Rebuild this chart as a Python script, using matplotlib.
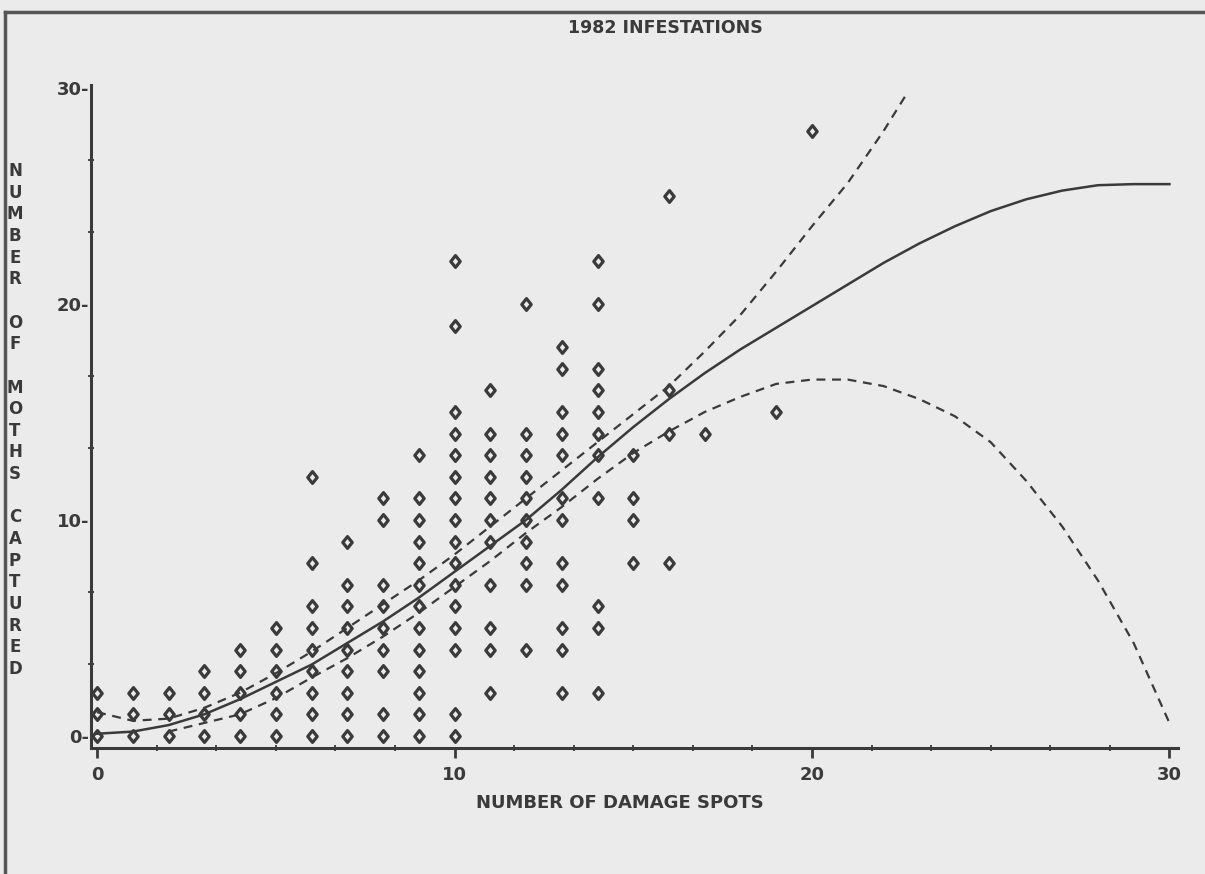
import matplotlib
matplotlib.use("Agg")
import matplotlib.pyplot as plt
from matplotlib.path import Path
from matplotlib.ticker import FixedLocator, MultipleLocator

# observed counts: moths captured at each number of damage spots
damage_spots = [0, 1, 2, 3, 4, 5, 6, 7, 8, 9, 10, 11, 12, 13, 14, 15, 16, 17, 19, 20]
moths_by_spots = [
    [0, 1, 2],
    [0, 1, 2],
    [0, 1, 2],
    [0, 1, 2, 3],
    [0, 1, 2, 3, 4],
    [0, 1, 2, 3, 4, 5],
    [0, 1, 2, 3, 4, 5, 6, 8, 12],
    [0, 1, 2, 3, 4, 5, 6, 7, 9],
    [0, 1, 3, 4, 5, 6, 7, 10, 11],
    [0, 1, 2, 3, 4, 5, 6, 7, 8, 9, 10, 11, 13],
    [0, 1, 4, 5, 6, 7, 8, 9, 10, 11, 12, 13, 14, 15, 19, 22],
    [2, 4, 5, 7, 9, 10, 11, 12, 13, 14, 16],
    [4, 7, 8, 9, 10, 11, 12, 13, 14, 20],
    [2, 4, 5, 7, 8, 10, 11, 13, 14, 15, 17, 18],
    [2, 5, 6, 11, 13, 14, 15, 16, 17, 20, 22],
    [8, 10, 11, 13],
    [8, 14, 16, 25],
    [14],
    [15],
    [28],
]

# fitted curve and confidence band
fit_x = list(range(31))
fit_y = [0.1, 0.2, 0.5, 1.0, 1.7, 2.5, 3.3, 4.3, 5.3, 6.4, 7.6, 8.8, 10.0, 11.4,
         12.9, 14.3, 15.6, 16.8, 17.9, 18.9, 19.9, 20.9, 21.9, 22.8, 23.6, 24.3,
         24.85, 25.25, 25.5, 25.55, 25.55]

upper_x = [0, 1, 2, 3, 4, 5, 6, 7, 8, 9, 10, 11, 12, 13, 14, 15, 16, 17, 18, 19,
           20, 21, 22, 22.6]
upper_y = [1.1, 0.7, 0.8, 1.3, 2.0, 2.9, 3.9, 5.0, 6.1, 7.2, 8.4, 9.7, 11.0, 12.3,
           13.6, 14.9, 16.2, 17.8, 19.5, 21.5, 23.6, 25.6, 28.0, 29.6]

lower_x = [2, 3, 4, 5, 6, 7, 8, 9, 10, 11, 12, 13, 14, 15, 16, 17, 18, 19, 20,
           21, 22, 23, 24, 25, 26, 27, 28, 29, 30]
lower_y = [0.2, 0.6, 1.0, 1.75, 2.7, 3.6, 4.6, 5.7, 6.9, 8.1, 9.4, 10.6, 11.9,
           13.1, 14.1, 15.0, 15.7, 16.3, 16.5, 16.5, 16.2, 15.6, 14.8, 13.6,
           11.8, 9.7, 7.2, 4.3, 0.6]

title = "1982 INFESTATIONS"
x_label = "NUMBER OF DAMAGE SPOTS"
y_label = "NUMBER OF MOTHS CAPTURED"

ink = "#3a3a3a"
paper = "#ebebeb"
font = ["DejaVu Sans"]

# rounded plotter diamond, a little taller than wide
diamond = Path([(0, 1), (0.8, 0), (0, -1), (-0.8, 0), (0, 1)],
               [Path.MOVETO, Path.LINETO, Path.LINETO, Path.LINETO, Path.CLOSEPOLY])

fig = plt.figure(figsize=(12.05, 8.74), dpi=100, facecolor=paper)
ax = fig.add_axes([91 / 1205, 1 - 748 / 874, (1178 - 91) / 1205, (748 - 85) / 874])
ax.set_facecolor(paper)

xs = [x for x, col in zip(damage_spots, moths_by_spots) for _ in col]
ys = [y for col in moths_by_spots for y in col]
ax.plot(xs, ys, linestyle="none", marker=diamond, markersize=8.5, mfc="none",
        mec=ink, mew=2.3, zorder=3)

ax.plot(fit_x, fit_y, color=ink, lw=1.8, zorder=2)
ax.plot(upper_x, upper_y, color=ink, lw=1.6, dashes=(4, 3), zorder=2)
ax.plot(lower_x, lower_y, color=ink, lw=1.6, dashes=(4, 3), zorder=2)

ax.set_xlim(-0.17, 30.24)
ax.set_ylim(-0.56, 30.14)

for side in ["top", "right"]:
    ax.spines[side].set_visible(False)
for side in ["left", "bottom"]:
    ax.spines[side].set_color(ink)
    ax.spines[side].set_linewidth(2.2)

ax.xaxis.set_major_locator(FixedLocator([0, 10, 20, 30]))
ax.xaxis.set_minor_locator(MultipleLocator(10 / 6))
ax.yaxis.set_major_locator(FixedLocator([0, 10, 20, 30]))
ax.yaxis.set_minor_locator(MultipleLocator(10 / 3))
ax.set_xticklabels(["0", "10", "20", "30"])
ax.set_yticklabels(["0-", "10-", "20-", "30-"])
ax.tick_params(axis="x", which="major", direction="out", length=7, width=2,
               color=ink, labelcolor=ink, labelsize=13, pad=6)
ax.tick_params(axis="x", which="minor", direction="inout", length=4, width=1.3,
               color=ink)
ax.tick_params(axis="y", which="major", length=0, labelcolor=ink,
               labelsize=13, pad=1)
ax.tick_params(axis="y", which="minor", direction="inout", length=4, width=1.3,
               color=ink)
for lab in ax.get_xticklabels() + ax.get_yticklabels():
    lab.set_family(font)
    lab.set_weight("bold")

fig.text(665 / 1205, 1 - 28 / 874, title, ha="center", va="center",
         fontsize=12.5, fontweight="bold", family=font, color=ink)
fig.text(620 / 1205, 1 - 803 / 874, x_label, ha="center", va="center",
         fontsize=13, fontweight="bold", family=font, color=ink)
fig.text(15 / 1205, 1 - 420 / 874, "\n".join(y_label), ha="center",
         va="center", fontsize=12, fontweight="bold", family=font, color=ink,
         linespacing=1.26)

# frame of the scanned page
fig.add_artist(plt.Line2D([5 / 1205, 5 / 1205], [0, 1 - 12 / 874],
                          transform=fig.transFigure, color="#555555", lw=2.5))
fig.add_artist(plt.Line2D([5 / 1205, 1], [1 - 12 / 874, 1 - 12 / 874],
                          transform=fig.transFigure, color="#555555", lw=2.5))

fig.savefig("out.png", dpi=100, facecolor=paper)
